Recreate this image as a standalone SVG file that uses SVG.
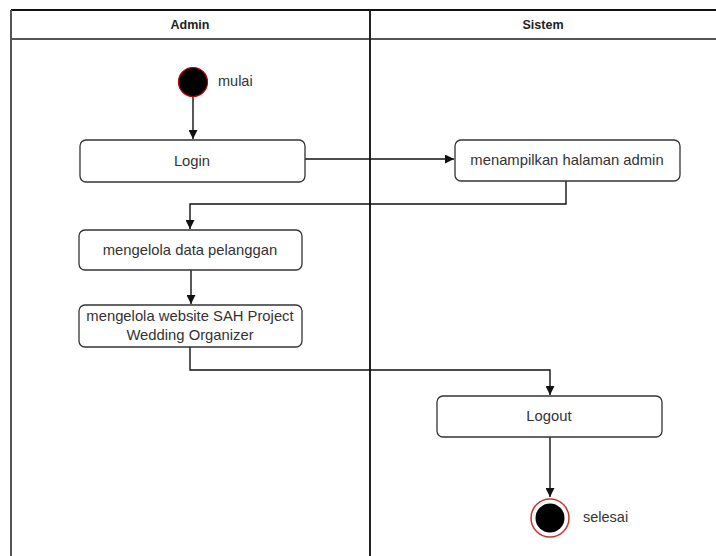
<svg xmlns="http://www.w3.org/2000/svg" width="716" height="556" viewBox="0 0 716 556">
<style>
.frame{stroke:#555;stroke-width:2;fill:none}
.box{fill:#fff;stroke:#333;stroke-width:1.3}
.t{font-family:"Liberation Sans",Arial,sans-serif;font-size:14.8px;fill:#333;text-anchor:middle;dominant-baseline:central}
.h{font-family:"Liberation Sans",Arial,sans-serif;font-size:12.5px;font-weight:bold;fill:#222;text-anchor:middle;dominant-baseline:central}
.l{font-family:"Liberation Sans",Arial,sans-serif;font-size:14.5px;fill:#333;dominant-baseline:central}
.c{fill:none;stroke:#111;stroke-width:1.4}
</style>
<defs>
<marker id="ah" viewBox="0 0 10 10" refX="10" refY="5" markerWidth="9" markerHeight="9" markerUnits="userSpaceOnUse" orient="auto">
<path d="M0,0 L10,5 L0,10 Z" fill="#111"/>
</marker>
</defs>
<rect width="716" height="556" fill="#fff"/>
<g id="swimlanes">
<line x1="11" y1="10" x2="716" y2="10" stroke="#111" stroke-width="2"/>
<line x1="11" y1="10" x2="11" y2="556" class="frame"/>
<line x1="11" y1="39" x2="716" y2="39" class="frame"/>
<line x1="370" y1="10" x2="370" y2="556" stroke="#222" stroke-width="2"/>
<text class="h" x="190" y="25">Admin</text>
<text class="h" x="543" y="25">Sistem</text>
</g>
<g id="connectors">
<path class="c" d="M193,97 V139" marker-end="url(#ah)"/>
<path class="c" d="M305,159 H454" marker-end="url(#ah)"/>
<path class="c" d="M566,181 V204 H190 V229" marker-end="url(#ah)"/>
<path class="c" d="M191,270 V304" marker-end="url(#ah)"/>
<path class="c" d="M190,347 V370 H550 V395" marker-end="url(#ah)"/>
<path class="c" d="M550,437 V497" marker-end="url(#ah)"/>
</g>
<g id="start">
<circle cx="193" cy="82" r="14.5" fill="#000" stroke="#b00" stroke-width="1.2"/>
<text class="l" x="218" y="81">mulai</text>
</g>
<g id="login">
<rect class="box" x="80" y="140" width="225" height="42" rx="6"/>
<text class="t" x="192" y="161">Login</text>
</g>
<g id="halaman">
<rect class="box" x="455" y="140" width="225" height="41" rx="6"/>
<text class="t" x="567" y="160">menampilkan halaman admin</text>
</g>
<g id="pelanggan">
<rect class="box" x="79" y="230" width="223" height="40" rx="6"/>
<text class="t" x="190" y="250">mengelola data pelanggan</text>
</g>
<g id="website">
<rect class="box" x="79" y="305" width="223" height="42" rx="6"/>
<text class="t" x="190" y="316">mengelola website SAH Project</text>
<text class="t" x="190" y="335">Wedding Organizer</text>
</g>
<g id="logout">
<rect class="box" x="437" y="396" width="225" height="41" rx="6"/>
<text class="t" x="549" y="416">Logout</text>
</g>
<g id="end">
<circle cx="550" cy="518" r="19" fill="#fff" stroke="#c33" stroke-width="1.5"/>
<circle cx="550" cy="518" r="14.5" fill="#000"/>
<text class="l" x="583" y="517">selesai</text>
</g>
</svg>
